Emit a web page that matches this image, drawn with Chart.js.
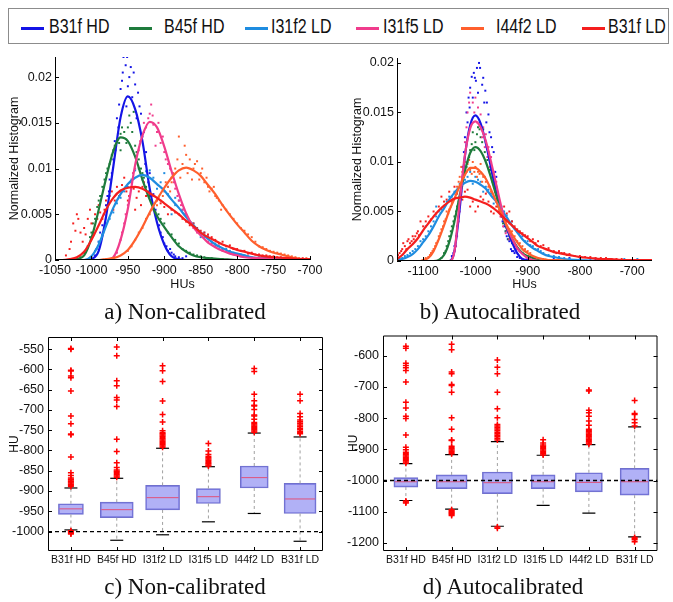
<!DOCTYPE html>
<html>
<head>
<meta charset="utf-8">
<script src="https://cdn.jsdelivr.net/npm/chart.js@4"></script>
<style>
  body { margin: 0; background: #fff; width: 673px; height: 602px; position: relative; overflow: hidden; font-family: "Liberation Sans", Arial, sans-serif; }
  canvas { position: absolute; }
  #legend { position: absolute; left: 8px; top: 8px; width: 659px; height: 34px; border: 1px solid #8c8c8c; }
  .key { position: absolute; top: 18px; height: 3px; width: 23px; }
  .lab { position: absolute; top: 7px; font-size: 16px; line-height: 18px; color: #111; transform: scale(1, 1.22); transform-origin: 0 0; white-space: nowrap; }
  .cap { position: absolute; font-family: "Liberation Serif", "Times New Roman", serif; font-size: 23px; line-height: 26px; transform: translateX(-50%); white-space: nowrap; color: #111; }
</style>
</head>
<body>
<div id="legend"></div>
<canvas id="histA" width="330" height="250" style="left:0;top:45px"></canvas>
<canvas id="histB" width="333" height="250" style="left:340px;top:45px"></canvas>
<canvas id="boxA" width="340" height="255" style="left:0;top:320px"></canvas>
<canvas id="boxB" width="333" height="255" style="left:340px;top:320px"></canvas>
<div class="cap" style="left:185px;top:299px">a) Non-calibrated</div>
<div class="cap" style="left:500px;top:299px">b) Autocalibrated</div>
<div class="cap" style="left:185px;top:574px">c) Non-calibrated</div>
<div class="cap" style="left:503px;top:574px">d) Autocalibrated</div>
<script>
const categories = ['B31f HD', 'B45f HD', 'I31f2 LD', 'I31f5 LD', 'I44f2 LD', 'B31f LD'];
const colors = ['#1414e6', '#1e7b3c', '#1e8ce0', '#f03c8c', '#ff5f2d', '#f51e1e'];

// histogram ticks
const histYTicks = [0, 0.005, 0.01, 0.015, 0.02];
const histATicks = [-1050, -1000, -950, -900, -850, -800, -750, -700];
const histBTicks = [-1100, -1000, -900, -800, -700];

// fitted curves, non-calibrated  [HU, value]
const fitA_B31fHD = [[-1050,0],[-1005,0],[-1000,0.0001],[-990,0.001],[-980,0.0047],[-970,0.0102],[-960,0.0156],[-950,0.0179],[-940,0.0165],[-930,0.0130],[-920,0.0078],[-910,0.0041],[-900,0.0017],[-890,0.0004],[-880,0.0001],[-870,0],[-700,0]];
const fitA_B45fHD = [[-1050,0],[-1025,0],[-1020,0.0001],[-1010,0.0005],[-1000,0.0024],[-990,0.0055],[-980,0.0089],[-970,0.0119],[-960,0.0134],[-950,0.0130],[-940,0.0113],[-930,0.0088],[-920,0.0066],[-910,0.0048],[-900,0.0036],[-890,0.0025],[-880,0.0015],[-870,0.0009],[-860,0.0005],[-850,0.0003],[-840,0.0002],[-820,0.0001],[-800,0],[-700,0]];
const fitA_I31f2LD = [[-1050,0],[-1010,0],[-1000,0.0004],[-990,0.0017],[-980,0.0037],[-970,0.0057],[-960,0.0072],[-950,0.0083],[-940,0.0090],[-930,0.0093],[-920,0.0090],[-910,0.0083],[-900,0.0076],[-890,0.0066],[-880,0.0057],[-870,0.0047],[-860,0.0038],[-850,0.0030],[-840,0.0023],[-830,0.0017],[-820,0.0013],[-810,0.0009],[-800,0.0007],[-790,0.0005],[-780,0.0003],[-760,0.0002],[-740,0.0001],[-720,0],[-700,0]];
const fitA_I31f5LD = [[-1050,0],[-980,0],[-970,0.0003],[-960,0.0022],[-950,0.0056],[-940,0.0104],[-930,0.0136],[-920,0.0151],[-910,0.0145],[-900,0.0124],[-890,0.0097],[-880,0.0072],[-870,0.0051],[-860,0.0036],[-850,0.0027],[-840,0.0019],[-830,0.0014],[-820,0.0010],[-810,0.0007],[-800,0.0005],[-790,0.0003],[-770,0.0002],[-750,0.0001],[-730,0],[-700,0]];
const fitA_I44f2LD = [[-1050,0],[-990,0],[-980,0.0001],[-970,0.0002],[-960,0.0005],[-950,0.0011],[-940,0.0022],[-930,0.0036],[-920,0.0052],[-910,0.0066],[-900,0.0079],[-890,0.0090],[-880,0.0098],[-870,0.0101],[-860,0.0098],[-850,0.0092],[-840,0.0082],[-830,0.0072],[-820,0.0060],[-810,0.0049],[-800,0.0039],[-790,0.0030],[-780,0.0021],[-770,0.0015],[-760,0.0011],[-750,0.0008],[-740,0.0006],[-730,0.0004],[-720,0.0002],[-710,0.0001],[-700,0.0001]];
const fitA_B31fLD = [[-1050,0],[-1040,0],[-1030,0.0001],[-1020,0.0003],[-1010,0.0009],[-1000,0.0022],[-990,0.0038],[-980,0.0055],[-970,0.0068],[-960,0.0076],[-950,0.0079],[-940,0.0080],[-930,0.0078],[-920,0.0073],[-910,0.0068],[-900,0.0062],[-890,0.0056],[-880,0.0050],[-870,0.0043],[-860,0.0037],[-850,0.0030],[-840,0.0025],[-830,0.0021],[-820,0.0017],[-810,0.0014],[-800,0.0011],[-790,0.0009],[-780,0.0007],[-770,0.0005],[-750,0.0003],[-730,0.0002],[-710,0.0001],[-700,0.0001]];

// histogram points, non-calibrated
const dotsA_B31fHD = [[-956,0.0222],[-951,0.0222],[-953,0.0213],[-946,0.0211],[-942,0.0205],[-948,0.0200],[-958,0.0196],[-940,0.0192],[-960,0.0187],[-936,0.0183],[-962,0.0170],[-934,0.0168],[-965,0.0155],[-932,0.0160],[-968,0.0130],[-928,0.0140],[-970,0.0110],[-925,0.0118],[-975,0.0088],[-920,0.0095],[-978,0.0070],[-915,0.0072],[-983,0.0050],[-910,0.0048],[-988,0.0030],[-905,0.0030],[-993,0.0012],[-900,0.0018],[-895,0.0010],[-890,0.0008],[-885,0.0004],[-880,0.0003],
  [-957,0.0205],[-950,0.0190],[-944,0.0178],[-952,0.0168],[-938,0.0155],[-963,0.0145],[-930,0.0135],[-967,0.0120],[-926,0.0105],[-972,0.0095],[-922,0.0085],[-976,0.0075],[-918,0.0065],[-980,0.0060],[-912,0.0055],[-985,0.0038],[-907,0.0038],[-990,0.0020],[-902,0.0025],[-897,0.0015],[-892,0.0012],[-887,0.0006],[-875,0.0002],[-870,0.0004],[-995,0.0005]];
const dotsA_B45fHD = [[-942,0.0162],[-946,0.0150],[-950,0.0145],[-955,0.0140],[-960,0.0138],[-965,0.0130],[-970,0.0120],[-975,0.0105],[-980,0.0095],[-985,0.0080],[-990,0.0065],[-995,0.0045],[-1000,0.0030],[-1005,0.0015],[-1010,0.0008],[-1015,0.0003],[-940,0.0125],[-935,0.0110],[-930,0.0095],[-925,0.0080],[-920,0.0070],[-915,0.0060],[-905,0.0045],[-895,0.0030],[-885,0.0022],[-875,0.0012],[-865,0.0008],[-855,0.0005],[-845,0.0003],[-960,0.0120],[-952,0.0128],
  [-948,0.0158],[-944,0.0140],[-958,0.0145],[-962,0.0128],[-968,0.0125],[-972,0.0115],[-978,0.0100],[-982,0.0088],[-988,0.0070],[-992,0.0058],[-998,0.0040],[-1002,0.0025],[-938,0.0118],[-932,0.0100],[-928,0.0090],[-922,0.0075],[-918,0.0065],[-912,0.0052],[-908,0.0050],[-900,0.0040],[-890,0.0028],[-880,0.0018],[-870,0.0010],[-860,0.0006],[-850,0.0004],[-835,0.0002],[-820,0.0001]];
const dotsA_I31f2LD = [[-935,0.0100],[-925,0.0097],[-915,0.0090],[-905,0.0085],[-945,0.0088],[-955,0.0075],[-965,0.0062],[-975,0.0045],[-985,0.0028],[-995,0.0010],[-895,0.0072],[-885,0.0060],[-875,0.0055],[-865,0.0042],[-855,0.0035],[-845,0.0030],[-835,0.0020],[-825,0.0015],[-815,0.0012],[-805,0.0008],[-795,0.0006],[-785,0.0004],[-770,0.0003],[-750,0.0002],[-900,0.0095],[-890,0.0050],[-880,0.0065],
  [-940,0.0098],[-930,0.0088],[-920,0.0098],[-910,0.0078],[-950,0.0080],[-960,0.0068],[-970,0.0052],[-980,0.0040],[-990,0.0020],[-895,0.0080],[-885,0.0068],[-870,0.0050],[-860,0.0040],[-850,0.0025],[-840,0.0026],[-830,0.0018],[-820,0.0012],[-810,0.0010],[-790,0.0005],[-780,0.0003],[-760,0.0002],[-740,0.0001]];
const dotsA_I31f5LD = [[-920,0.0160],[-915,0.0148],[-910,0.0140],[-925,0.0145],[-930,0.0138],[-905,0.0128],[-935,0.0120],[-900,0.0118],[-940,0.0100],[-895,0.0105],[-945,0.0085],[-890,0.0090],[-950,0.0060],[-885,0.0078],[-955,0.0040],[-880,0.0065],[-960,0.0022],[-875,0.0055],[-965,0.0008],[-870,0.0048],[-865,0.0040],[-860,0.0035],[-850,0.0028],[-840,0.0020],[-830,0.0015],[-820,0.0010],[-810,0.0008],[-800,0.0005],[-918,0.0170],[-912,0.0125],
  [-922,0.0155],[-916,0.0158],[-908,0.0150],[-928,0.0150],[-933,0.0130],[-902,0.0135],[-938,0.0110],[-898,0.0110],[-943,0.0095],[-892,0.0100],[-948,0.0070],[-887,0.0085],[-953,0.0050],[-882,0.0070],[-958,0.0030],[-877,0.0060],[-872,0.0050],[-867,0.0045],[-862,0.0038],[-855,0.0030],[-845,0.0025],[-835,0.0018],[-825,0.0012],[-815,0.0009],[-805,0.0006],[-795,0.0004],[-780,0.0002]];
const dotsA_I44f2LD = [[-880,0.0135],[-870,0.0115],[-875,0.0105],[-865,0.0110],[-860,0.0100],[-850,0.0095],[-885,0.0100],[-890,0.0085],[-895,0.0080],[-900,0.0075],[-905,0.0065],[-910,0.0060],[-920,0.0050],[-930,0.0035],[-940,0.0022],[-950,0.0010],[-845,0.0085],[-840,0.0080],[-835,0.0078],[-830,0.0070],[-825,0.0065],[-820,0.0060],[-810,0.0050],[-800,0.0040],[-790,0.0032],[-780,0.0025],[-770,0.0015],[-760,0.0012],[-750,0.0009],[-740,0.0007],[-730,0.0005],[-720,0.0003],[-855,0.0108],[-862,0.0088],
  [-872,0.0125],[-868,0.0095],[-878,0.0090],[-858,0.0105],[-852,0.0088],[-848,0.0100],[-882,0.0110],[-888,0.0095],[-892,0.0075],[-898,0.0085],[-902,0.0070],[-908,0.0068],[-915,0.0055],[-925,0.0045],[-935,0.0030],[-945,0.0015],[-842,0.0090],[-838,0.0075],[-832,0.0080],[-828,0.0068],[-822,0.0055],[-815,0.0055],[-805,0.0045],[-795,0.0035],[-785,0.0028],[-775,0.0020],[-765,0.0014],[-755,0.0010],[-745,0.0008],[-735,0.0006],[-725,0.0004],[-715,0.0002],[-705,0.0002]];
const dotsA_B31fLD = [[-1025,0.0040],[-1020,0.0050],[-1015,0.0030],[-1010,0.0035],[-1005,0.0045],[-1000,0.0040],[-995,0.0050],[-990,0.0060],[-985,0.0045],[-980,0.0065],[-975,0.0070],[-970,0.0055],[-965,0.0080],[-960,0.0075],[-955,0.0090],[-950,0.0065],[-945,0.0085],[-940,0.0055],[-935,0.0075],[-930,0.0080],[-925,0.0070],[-920,0.0072],[-910,0.0065],[-900,0.0058],[-890,0.0055],[-880,0.0050],[-870,0.0042],[-860,0.0040],[-850,0.0032],[-840,0.0028],[-830,0.0022],[-820,0.0020],[-810,0.0016],[-800,0.0012],[-790,0.0010],[-780,0.0008],[-770,0.0006],[-760,0.0005],[-750,0.0004],[-740,0.0003],[-730,0.0003],[-720,0.0002],[-710,0.0002],[-700,0.0001],[-1030,0.0012],[-1035,0.0005],
  [-1028,0.0020],[-1022,0.0032],[-1018,0.0045],[-1012,0.0020],[-1008,0.0028],[-1002,0.0055],[-998,0.0030],[-992,0.0045],[-988,0.0052],[-982,0.0055],[-978,0.0060],[-972,0.0075],[-968,0.0065],[-962,0.0070],[-958,0.0082],[-952,0.0075],[-948,0.0070],[-942,0.0078],[-938,0.0068],[-932,0.0060],[-928,0.0085],[-915,0.0070],[-905,0.0062],[-895,0.0050],[-885,0.0052],[-875,0.0045],[-865,0.0038],[-855,0.0035],[-845,0.0030],[-835,0.0025],[-825,0.0018],[-815,0.0015],[-805,0.0012],[-795,0.0010],[-785,0.0007],[-775,0.0006],[-765,0.0005],[-755,0.0004],[-745,0.0003],[-735,0.0002],[-725,0.0002],[-715,0.0001],[-705,0.0001]];

// fitted curves, autocalibrated
const fitB_B31fHD = [[-1150,0],[-1050,0],[-1045,0.0002],[-1040,0.0010],[-1030,0.0053],[-1020,0.0106],[-1010,0.0137],[-1000,0.0147],[-990,0.0139],[-980,0.0119],[-970,0.0094],[-960,0.0069],[-950,0.0048],[-940,0.0033],[-930,0.0019],[-920,0.0008],[-910,0.0002],[-900,0.0001],[-880,0],[-662,0]];
const fitB_B45fHD = [[-1150,0],[-1080,0],[-1070,0.0001],[-1060,0.0006],[-1050,0.0019],[-1040,0.0040],[-1030,0.0066],[-1020,0.0091],[-1010,0.0109],[-1000,0.0115],[-990,0.0111],[-980,0.0100],[-970,0.0084],[-960,0.0066],[-950,0.0049],[-940,0.0034],[-930,0.0023],[-920,0.0014],[-910,0.0008],[-900,0.0005],[-890,0.0003],[-880,0.0001],[-860,0],[-662,0]];
const fitB_I31f2LD = [[-1150,0.0001],[-1140,0.0002],[-1130,0.0004],[-1120,0.0007],[-1110,0.0012],[-1100,0.0019],[-1090,0.0026],[-1080,0.0035],[-1070,0.0045],[-1060,0.0053],[-1050,0.0062],[-1040,0.0069],[-1030,0.0075],[-1020,0.0079],[-1010,0.0081],[-1000,0.0080],[-990,0.0077],[-980,0.0073],[-970,0.0066],[-960,0.0060],[-950,0.0052],[-940,0.0044],[-930,0.0036],[-920,0.0029],[-910,0.0022],[-900,0.0017],[-890,0.0013],[-880,0.0010],[-870,0.0007],[-860,0.0005],[-850,0.0004],[-830,0.0002],[-800,0.0001],[-760,0],[-662,0]];
const fitB_I31f5LD = [[-1150,0],[-1050,0],[-1040,0.0010],[-1030,0.0060],[-1020,0.0107],[-1010,0.0134],[-1000,0.0141],[-990,0.0135],[-980,0.0121],[-970,0.0100],[-960,0.0077],[-950,0.0054],[-940,0.0035],[-930,0.0023],[-920,0.0013],[-910,0.0007],[-900,0.0003],[-890,0.0001],[-870,0],[-662,0]];
const fitB_I44f2LD = [[-1150,0],[-1105,0],[-1100,0.0001],[-1090,0.0003],[-1080,0.0010],[-1070,0.0022],[-1060,0.0036],[-1050,0.0051],[-1040,0.0063],[-1030,0.0076],[-1020,0.0087],[-1010,0.0094],[-1000,0.0094],[-990,0.0090],[-980,0.0083],[-970,0.0072],[-960,0.0060],[-950,0.0048],[-940,0.0036],[-930,0.0027],[-920,0.0019],[-910,0.0012],[-900,0.0008],[-890,0.0005],[-880,0.0003],[-870,0.0002],[-860,0.0001],[-840,0.0001],[-820,0],[-662,0]];
const fitB_B31fLD = [[-1150,0.0002],[-1140,0.0006],[-1130,0.0012],[-1120,0.0017],[-1110,0.0023],[-1100,0.0031],[-1090,0.0038],[-1080,0.0045],[-1070,0.0051],[-1060,0.0056],[-1050,0.0060],[-1040,0.0063],[-1030,0.0064],[-1020,0.0065],[-1010,0.0064],[-1000,0.0062],[-990,0.0060],[-980,0.0058],[-970,0.0055],[-960,0.0051],[-950,0.0046],[-940,0.0041],[-930,0.0036],[-920,0.0031],[-910,0.0027],[-900,0.0023],[-890,0.0019],[-880,0.0015],[-870,0.0013],[-860,0.0011],[-850,0.0009],[-840,0.0008],[-830,0.0007],[-820,0.0006],[-800,0.0004],[-780,0.0003],[-760,0.0002],[-740,0.0002],[-720,0.0001],[-700,0.0001],[-662,0.0001]];

// histogram points, autocalibrated
const dotsB_B31fHD = [[-989,0.0206],[-993,0.0200],[-997,0.0195],[-1003,0.0190],[-1007,0.0186],[-985,0.0185],[-999,0.0182],[-1010,0.0175],[-981,0.0172],[-1013,0.0165],[-978,0.0160],[-1017,0.0150],[-975,0.0148],[-995,0.0170],[-1020,0.0125],[-970,0.0125],[-1025,0.0095],[-965,0.0110],[-1030,0.0060],[-960,0.0085],[-1035,0.0035],[-955,0.0062],[-1040,0.0015],[-950,0.0045],[-1045,0.0005],[-945,0.0035],[-940,0.0025],[-935,0.0020],[-930,0.0010],[-925,0.0008],[-920,0.0004],[-910,0.0002],[-820,0.0003],[-740,0.0002],
  [-991,0.0195],[-1001,0.0185],[-987,0.0178],[-1005,0.0165],[-983,0.0160],[-1011,0.0155],[-979,0.0140],[-1015,0.0140],[-973,0.0130],[-1018,0.0115],[-968,0.0115],[-1022,0.0110],[-962,0.0090],[-1027,0.0075],[-958,0.0070],[-1032,0.0045],[-952,0.0055],[-1037,0.0025],[-948,0.0040],[-1042,0.0008],[-942,0.0030],[-938,0.0022],[-932,0.0012],[-927,0.0010],[-915,0.0003],[-900,0.0002],[-850,0.0002],[-770,0.0002]];
const dotsB_B45fHD = [[-995,0.0135],[-985,0.0133],[-990,0.0125],[-1000,0.0120],[-1005,0.0130],[-980,0.0120],[-975,0.0110],[-1010,0.0112],[-970,0.0100],[-1015,0.0100],[-965,0.0085],[-1020,0.0090],[-960,0.0075],[-1025,0.0080],[-955,0.0060],[-1030,0.0065],[-950,0.0052],[-1035,0.0055],[-945,0.0040],[-1040,0.0045],[-940,0.0033],[-1045,0.0035],[-935,0.0025],[-1050,0.0025],[-930,0.0018],[-1055,0.0015],[-920,0.0012],[-1060,0.0008],[-910,0.0008],[-1065,0.0003],[-900,0.0005],
  [-997,0.0128],[-987,0.0120],[-992,0.0133],[-1002,0.0112],[-1007,0.0118],[-982,0.0110],[-977,0.0102],[-1012,0.0105],[-972,0.0092],[-1017,0.0095],[-967,0.0080],[-1022,0.0085],[-962,0.0070],[-1027,0.0075],[-957,0.0055],[-1032,0.0060],[-952,0.0048],[-1037,0.0050],[-947,0.0038],[-1042,0.0040],[-942,0.0030],[-1047,0.0030],[-937,0.0022],[-1052,0.0020],[-925,0.0015],[-1057,0.0010],[-915,0.0010],[-905,0.0006],[-895,0.0004],[-880,0.0002]];
const dotsB_I31f2LD = [[-1000,0.0085],[-1010,0.0090],[-1020,0.0082],[-1030,0.0078],[-1040,0.0070],[-1050,0.0065],[-1060,0.0055],[-1070,0.0050],[-1080,0.0040],[-1090,0.0030],[-1100,0.0022],[-1110,0.0015],[-1120,0.0010],[-1130,0.0006],[-1140,0.0003],[-990,0.0080],[-980,0.0075],[-970,0.0068],[-960,0.0062],[-950,0.0055],[-940,0.0046],[-930,0.0040],[-920,0.0030],[-910,0.0025],[-900,0.0020],[-890,0.0015],[-880,0.0012],[-870,0.0008],[-850,0.0005],[-830,0.0003],[-800,0.0002],[-760,0.0002],[-715,0.0002],[-1095,0.0035],[-1075,0.0055],
  [-1005,0.0078],[-1015,0.0085],[-1025,0.0076],[-1035,0.0072],[-1045,0.0065],[-1055,0.0060],[-1065,0.0052],[-1075,0.0045],[-1085,0.0035],[-1095,0.0025],[-1105,0.0020],[-1115,0.0012],[-1125,0.0008],[-1135,0.0005],[-1145,0.0002],[-995,0.0082],[-985,0.0070],[-975,0.0072],[-965,0.0058],[-955,0.0058],[-945,0.0050],[-935,0.0038],[-925,0.0033],[-915,0.0028],[-905,0.0020],[-895,0.0016],[-885,0.0012],[-875,0.0010],[-860,0.0006],[-840,0.0004],[-820,0.0002],[-780,0.0002],[-730,0.0001],[-690,0.0002]];
const dotsB_I31f5LD = [[-1010,0.0170],[-1000,0.0165],[-995,0.0155],[-1015,0.0150],[-990,0.0148],[-985,0.0135],[-1020,0.0120],[-980,0.0128],[-975,0.0115],[-1025,0.0085],[-970,0.0105],[-965,0.0090],[-1030,0.0050],[-960,0.0080],[-955,0.0060],[-1035,0.0025],[-950,0.0050],[-945,0.0040],[-1040,0.0010],[-940,0.0030],[-930,0.0020],[-920,0.0012],[-910,0.0008],[-900,0.0005],[-1005,0.0160],
  [-1012,0.0160],[-1002,0.0150],[-997,0.0140],[-1017,0.0135],[-992,0.0140],[-987,0.0125],[-1022,0.0100],[-982,0.0115],[-977,0.0105],[-1027,0.0070],[-972,0.0095],[-967,0.0088],[-1032,0.0040],[-962,0.0070],[-957,0.0065],[-1037,0.0015],[-952,0.0045],[-947,0.0035],[-942,0.0028],[-935,0.0022],[-925,0.0015],[-915,0.0010],[-905,0.0006],[-890,0.0003]];
const dotsB_I44f2LD = [[-1025,0.0090],[-1020,0.0100],[-1015,0.0098],[-1010,0.0092],[-1005,0.0100],[-1000,0.0095],[-995,0.0090],[-990,0.0098],[-985,0.0085],[-980,0.0080],[-975,0.0075],[-970,0.0070],[-960,0.0060],[-950,0.0048],[-940,0.0040],[-930,0.0030],[-920,0.0020],[-910,0.0015],[-900,0.0010],[-1030,0.0085],[-1035,0.0075],[-1040,0.0068],[-1045,0.0060],[-1050,0.0052],[-1055,0.0050],[-1060,0.0040],[-1065,0.0032],[-1070,0.0025],[-1075,0.0018],[-1080,0.0012],[-1085,0.0008],[-1090,0.0004],
  [-1027,0.0095],[-1022,0.0088],[-1017,0.0090],[-1012,0.0102],[-1007,0.0088],[-1002,0.0090],[-997,0.0085],[-992,0.0088],[-987,0.0080],[-982,0.0085],[-977,0.0070],[-972,0.0075],[-965,0.0065],[-955,0.0052],[-945,0.0042],[-935,0.0032],[-925,0.0025],[-915,0.0018],[-905,0.0012],[-895,0.0008],[-1032,0.0080],[-1037,0.0070],[-1042,0.0062],[-1047,0.0055],[-1052,0.0048],[-1057,0.0042],[-1062,0.0035],[-1067,0.0028],[-1072,0.0020],[-1077,0.0015],[-1082,0.0010],[-1087,0.0006],[-1095,0.0003]];
const dotsB_B31fLD = [[-1145,0.0008],[-1140,0.0012],[-1135,0.0015],[-1130,0.0020],[-1125,0.0018],[-1120,0.0025],[-1115,0.0025],[-1110,0.0030],[-1100,0.0035],[-1090,0.0045],[-1080,0.0050],[-1070,0.0055],[-1060,0.0060],[-1050,0.0070],[-1040,0.0075],[-1030,0.0060],[-1020,0.0070],[-1010,0.0055],[-1000,0.0050],[-990,0.0065],[-980,0.0068],[-970,0.0050],[-960,0.0055],[-950,0.0045],[-940,0.0048],[-930,0.0040],[-920,0.0032],[-910,0.0028],[-900,0.0025],[-890,0.0022],[-880,0.0020],[-870,0.0016],[-860,0.0013],[-850,0.0010],[-840,0.0010],[-830,0.0008],[-820,0.0007],[-800,0.0005],[-780,0.0004],[-760,0.0003],[-740,0.0002],[-720,0.0002],[-700,0.0001],[-680,0.0001],[-1150,0.0004],[-1105,0.0040],[-1065,0.0065],[-945,0.0055],[-935,0.0050],
  [-1148,0.0006],[-1142,0.0010],[-1138,0.0018],[-1132,0.0012],[-1128,0.0022],[-1122,0.0020],[-1118,0.0022],[-1112,0.0028],[-1108,0.0026],[-1095,0.0040],[-1085,0.0042],[-1075,0.0048],[-1055,0.0062],[-1045,0.0058],[-1035,0.0068],[-1025,0.0062],[-1015,0.0072],[-1005,0.0060],[-995,0.0055],[-985,0.0062],[-975,0.0060],[-965,0.0048],[-955,0.0050],[-925,0.0035],[-915,0.0030],[-905,0.0026],[-895,0.0020],[-885,0.0018],[-875,0.0015],[-865,0.0012],[-855,0.0010],[-845,0.0008],[-835,0.0008],[-825,0.0006],[-810,0.0005],[-790,0.0004],[-770,0.0003],[-750,0.0003],[-730,0.0002],[-710,0.0001],[-690,0.0001],[-670,0.0001]];

// box plots, non-calibrated
const boxATicks = [-1000, -950, -900, -850, -800, -750, -700, -650, -600, -550];
const nonCalLow = [-996, -1021.5, -1008, -976, -955.4, -1024];
const nonCalQ1 = [-957.8, -965.8, -946.7, -930.7, -892.5, -955.4];
const nonCalMedian = [-944, -946, -916.4, -914, -867, -919.6];
const nonCalQ3 = [-931.5, -927.5, -886, -894, -838.3, -881.3];
const nonCalHigh = [-892.5, -868.6, -794.5, -840, -757, -766.6];
const nonCalOutliers = [
  [-548.6, -550, -602, -604, -616, -620.7, -653, -715, -734, -759.6, -761, -816, -855, -862, -868, -871, -873, -876, -878, -880, -883, -886, -889, -998, -1000, -1002, -1004, -1006],
  [-544.5, -566, -628, -640, -669, -675.5, -691.4, -772, -802.5, -830, -842, -848, -851, -854, -857, -860, -863, -866],
  [-591, -603, -629.5, -678, -711, -729.5, -751, -756, -759, -762, -765, -768, -771, -774, -777, -780, -783, -786, -789, -792],
  [-782.6, -801, -810, -815, -818, -821, -824, -827, -830, -833, -836, -838],
  [-597.8, -605, -661.5, -677.4, -688.6, -690, -699, -712.5, -715, -723, -731, -734, -737, -740, -743, -746, -749, -752, -755],
  [-661.5, -677.4, -709, -717, -725, -729, -733, -737, -741, -745, -749, -753, -756, -759]
];

// box plots, autocalibrated
const boxBTicks = [-1200, -1100, -1000, -900, -800, -700, -600];
const autoLow = [-1064, -1092, -1146.6, -1079.6, -1104.7, -1181];
const autoQ1 = [-1021, -1026, -1042, -1026, -1036.6, -1047];
const autoMedian = [-1004, -1004, -1007, -1004, -1006, -1004];
const autoQ3 = [-990.6, -982, -972.8, -982, -975, -961];
const autoHigh = [-945.6, -917, -875, -919, -884.8, -828];
const autoOutliers = [
  [-569.6, -576, -624, -631, -638.7, -647, -683.8, -748.7, -767.5, -793.7, -801, -854.4, -893, -901.6, -909, -913, -917, -921, -925, -929, -933, -937, -941, -945, -1066, -1069, -1072],
  [-563, -581, -652, -657.6, -692, -695, -717, -799, -835.6, -870, -872, -890, -894, -898, -902, -906, -910, -914, -1094, -1097, -1100, -1103, -1106, -1109, -1112],
  [-613.6, -636.6, -657.6, -717, -769.6, -799, -820, -825, -830, -835, -840, -845, -850, -855, -860, -865, -870, -1149, -1153],
  [-869, -879.6, -886, -890, -894, -898, -902, -906, -910, -914, -918],
  [-710, -713, -775, -783, -793.7, -809, -823, -836, -840, -844, -848, -852, -856, -860, -864, -868, -872, -876, -880, -884],
  [-743.5, -785, -788.5, -804, -814.7, -825, -1183, -1186, -1190, -1196]
];
const reference = -1000;

// ---- drawing ----
const FONT = '"Liberation Sans", Arial, sans-serif';
Chart.defaults.font.family = FONT;
Chart.defaults.color = '#111';

// legend
const legend = document.getElementById('legend');
const keyX = [12, 120, 236, 347, 452, 573];
const labX = [40, 155, 262, 374, 487, 599];
categories.forEach((c, i) => {
  legend.insertAdjacentHTML('beforeend',
    `<div class="key" style="left:${keyX[i]}px;background:${colors[i]}"></div>` +
    `<div class="lab" style="left:${labX[i]}px">${c}</div>`);
});

// axis lines and inward ticks, matlab style
const axesFrame = {
  id: 'axesFrame',
  afterDatasetsDraw(chart, args, opts) {
    const { ctx, chartArea: a, scales: { x, y } } = chart;
    const len = opts.tick || 4;
    ctx.save();
    ctx.strokeStyle = '#000';
    ctx.lineWidth = 1;
    ctx.beginPath();
    if (opts.box) {
      ctx.rect(a.left + 0.5, a.top + 0.5, a.right - a.left - 1, a.bottom - a.top - 1);
    } else {
      ctx.moveTo(a.left + 0.5, a.top);
      ctx.lineTo(a.left + 0.5, a.bottom - 0.5);
      ctx.lineTo(a.right, a.bottom - 0.5);
    }
    y.ticks.forEach(t => {
      const p = Math.round(y.getPixelForValue(t.value)) + 0.5;
      ctx.moveTo(a.left, p); ctx.lineTo(a.left + len, p);
      if (opts.box) { ctx.moveTo(a.right, p); ctx.lineTo(a.right - len, p); }
    });
    x.ticks.forEach(t => {
      const p = Math.round(x.getPixelForValue(t.value)) + 0.5;
      ctx.moveTo(p, a.bottom); ctx.lineTo(p, a.bottom - len);
      if (opts.box) { ctx.moveTo(p, a.top); ctx.lineTo(p, a.top + len); }
    });
    ctx.stroke();
    ctx.restore();
  }
};

const pts = arr => arr.map(([x, y]) => ({ x, y }));
const fixTicks = list => scale => { scale.ticks = list.map(v => ({ value: v })); };
const noGrid = { display: false, drawTicks: false };

function histChart(id, fits, dots, xMin, xMax, yMax, xTicks, pad, yW, xH, titlePad) {
  const datasets = [];
  categories.forEach((c, i) => {
    datasets.push({
      data: pts(dots[i]), showLine: false, pointStyle: 'rect', pointRadius: 1.4,
      pointBorderWidth: 0, backgroundColor: colors[i], order: 20 - i
    });
    datasets.push({
      data: pts(fits[i]), showLine: true, pointRadius: 0, borderColor: colors[i],
      borderWidth: 2.2, cubicInterpolationMode: 'monotone', order: 6 - i
    });
  });
  new Chart(document.getElementById(id), {
    type: 'scatter',
    data: { datasets },
    options: {
      responsive: false, animation: false, devicePixelRatio: 1,
      layout: { padding: pad },
      plugins: { legend: { display: false }, tooltip: { enabled: false }, axesFrame: { box: false } },
      scales: {
        x: {
          type: 'linear', min: xMin, max: xMax,
          grid: noGrid, border: { display: false },
          afterBuildTicks: fixTicks(xTicks),
          afterFit: s => { s.height = xH; },
          ticks: { font: { size: 12.5 }, padding: 3, maxRotation: 0, autoSkip: false, callback: v => String(v) },
          title: { display: true, text: 'HUs', font: { size: 12.5 }, padding: { top: 0, bottom: 3 } }
        },
        y: {
          min: 0, max: yMax,
          grid: noGrid, border: { display: false },
          afterBuildTicks: fixTicks(histYTicks),
          afterFit: s => { s.width = yW; },
          ticks: { font: { size: 12.5 }, padding: 3, callback: v => String(v) },
          title: { display: true, text: 'Normalized Histogram', font: { size: 12.5 }, padding: { top: titlePad, bottom: 0 } }
        }
      }
    },
    plugins: [axesFrame]
  });
}

histChart('histA',
  [fitA_B31fHD, fitA_B45fHD, fitA_I31f2LD, fitA_I31f5LD, fitA_I44f2LD, fitA_B31fLD],
  [dotsA_B31fHD, dotsA_B45fHD, dotsA_I31f2LD, dotsA_I31f5LD, dotsA_I44f2LD, dotsA_B31fLD],
  -1050, -700, 0.0222, histATicks, { left: 0, right: 20, top: 12, bottom: 0 }, 55, 35, 7);

histChart('histB',
  [fitB_B31fHD, fitB_B45fHD, fitB_I31f2LD, fitB_I31f5LD, fitB_I44f2LD, fitB_B31fLD],
  [dotsB_B31fHD, dotsB_B45fHD, dotsB_I31f2LD, dotsB_I31f5LD, dotsB_I44f2LD, dotsB_B31fLD],
  -1150, -662, 0.0205, histBTicks, { left: 0, right: 21, top: 13, bottom: 0 }, 57, 34, 10);

const boxWidthsA = [25, 33, 34, 24, 28, 32];
const boxWidthsB = [24, 31, 30, 24, 27, 29];

function boxChart(id, low, q1, med, q3, high, outliers, yMin, yMax, yTicks, widths, pad, yW, xH, titlePad) {
  const datasets = [];
  categories.forEach((c, i) => {
    datasets.push({
      type: 'bar', data: [{ x: i + 1, y: [q1[i], q3[i]] }], grouped: false,
      barThickness: widths[i], backgroundColor: 'rgba(125,125,240,0.6)',
      borderColor: '#7070cc', borderWidth: 1, borderSkipped: false, order: 10
    });
  });
  const whisk = [];
  categories.forEach((c, i) => {
    whisk.push({ x: i + 1, y: q3[i] }, { x: i + 1, y: high[i] }, { x: i + 1, y: null });
    whisk.push({ x: i + 1, y: q1[i] }, { x: i + 1, y: low[i] }, { x: i + 1, y: null });
  });
  datasets.push({
    type: 'line', data: whisk, borderColor: '#a0a0a0', borderWidth: 1,
    borderDash: [3, 3], pointRadius: 0, spanGaps: false, order: 9
  });
  const caps = [];
  categories.forEach((c, i) => { caps.push({ x: i + 1, y: low[i] }, { x: i + 1, y: high[i] }); });
  datasets.push({
    type: 'scatter', data: caps, pointStyle: 'line', pointRadius: 6.5,
    borderColor: '#000', pointBorderWidth: 1.2, order: 8
  });
  datasets.push({
    type: 'scatter', data: med.map((m, i) => ({ x: i + 1, y: m })), pointStyle: 'line',
    pointRadius: categories.map((c, i) => widths[i] / 2 - 1),
    borderColor: '#e0507a', pointBorderWidth: 1, order: 7
  });
  const outs = [];
  outliers.forEach((list, i) => list.forEach(v => outs.push({ x: i + 1, y: v })));
  datasets.push({
    type: 'scatter', data: outs, pointStyle: 'cross', pointRadius: 3,
    borderColor: '#ff0000', pointBorderWidth: 1.5, order: 6
  });
  datasets.push({
    type: 'line', data: [{ x: 0.5, y: reference }, { x: 6.5, y: reference }],
    borderColor: '#000', borderWidth: 1.3, borderDash: [4, 3], pointRadius: 0, order: 1
  });
  new Chart(document.getElementById(id), {
    type: 'bar',
    data: { datasets },
    options: {
      responsive: false, animation: false, devicePixelRatio: 1,
      layout: { padding: pad },
      plugins: { legend: { display: false }, tooltip: { enabled: false }, axesFrame: { box: true } },
      scales: {
        x: {
          type: 'linear', min: 0.5, max: 6.5, offset: false,
          grid: noGrid, border: { display: false },
          afterBuildTicks: fixTicks([1, 2, 3, 4, 5, 6]),
          afterFit: s => { s.height = xH; },
          ticks: { font: { size: 10.5 }, padding: 3, maxRotation: 0, autoSkip: false, callback: v => categories[v - 1] }
        },
        y: {
          type: 'linear', min: yMin, max: yMax,
          grid: noGrid, border: { display: false },
          afterBuildTicks: fixTicks(yTicks),
          afterFit: s => { s.width = yW; },
          ticks: { font: { size: 12.5 }, padding: 4, callback: v => String(v) },
          title: { display: true, text: 'HU', font: { size: 12 }, padding: { top: titlePad, bottom: 0 } }
        }
      }
    },
    plugins: [axesFrame]
  });
}

boxChart('boxA', nonCalLow, nonCalQ1, nonCalMedian, nonCalQ3, nonCalHigh, nonCalOutliers,
  -1048, -520, boxATicks, boxWidthsA, { left: 0, right: 5, top: 10, bottom: 0 }, 48, 24, 7);
boxChart('boxB', autoLow, autoQ1, autoMedian, autoQ3, autoHigh, autoOutliers,
  -1226, -535, boxBTicks, boxWidthsB, { left: 0, right: 1, top: 11, bottom: 0 }, 43, 24, 6);
</script>
</body>
</html>
